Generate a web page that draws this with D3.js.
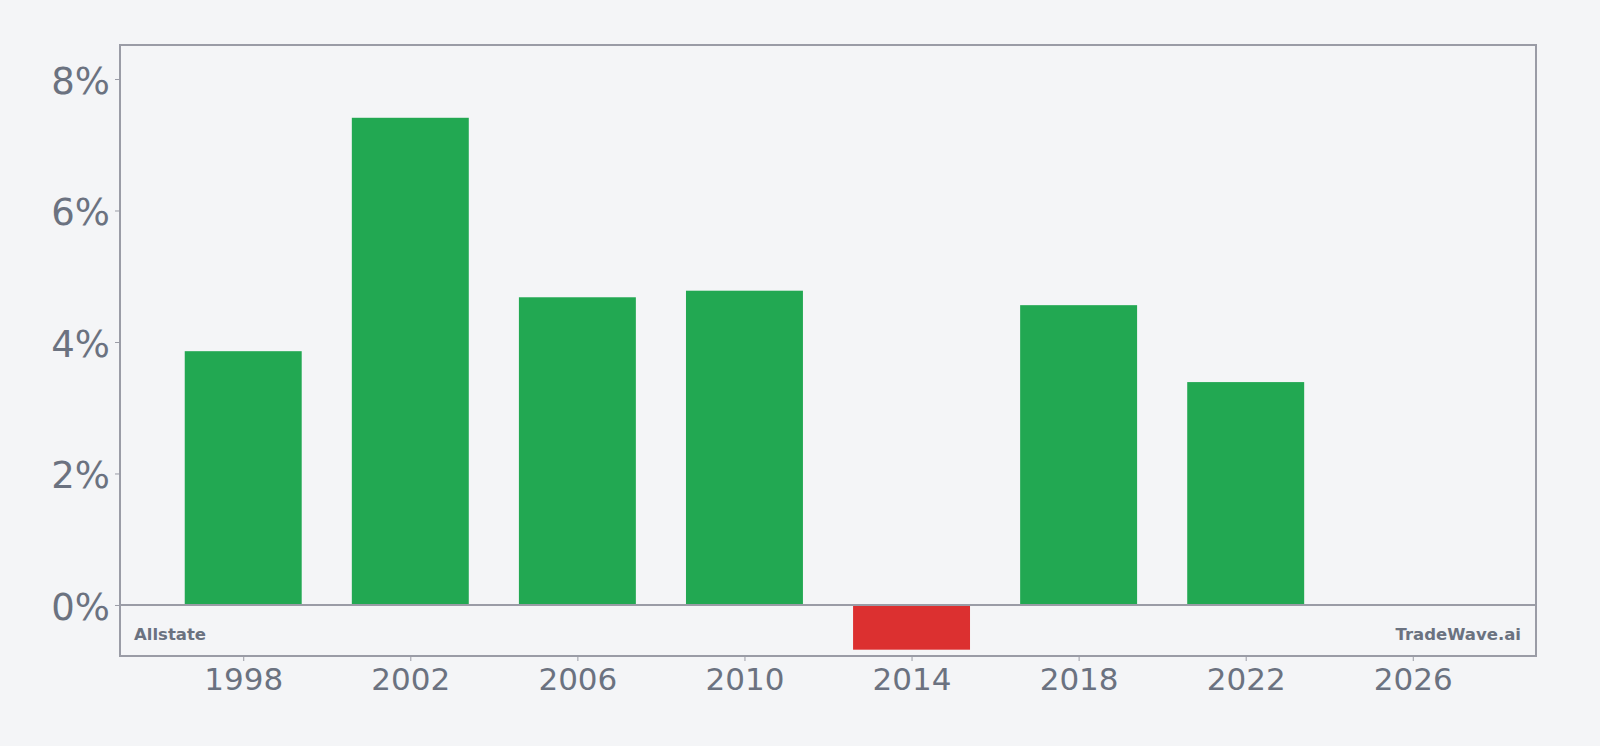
<!DOCTYPE html>
<html>
<head>
<meta charset="utf-8">
<script src="https://cdn.jsdelivr.net/npm/d3@7"></script>
<style>
    html, body { margin: 0; padding: 0; background: #f4f5f7; }
    svg { display: block; font-family: 'DejaVu Sans', sans-serif; }
</style>
</head>
<body>
<svg id="chart" width="1600" height="746"></svg>
<script>
const YEARS = [1998, 2002, 2006, 2010, 2014, 2018, 2022]
const RETURNS = [3.86, 7.41, 4.68, 4.78, -0.68, 4.56, 3.39]
const X_TICKS = [1998, 2002, 2006, 2010, 2014, 2018, 2022, 2026]
const Y_TICKS = [0, 2, 4, 6, 8]

const svg = d3.select('#chart')
const margin = { top: 45, right: 64, bottom: 90, left: 120 }
const width = 1600 - margin.left - margin.right
const height = 746 - margin.top - margin.bottom

const x = d3.scaleLinear().domain([1995.05, 2028.95]).range([0, width])
const y = d3.scaleLinear().domain([-0.776, 8.517]).range([height, 0])
const barW = x(1995.05 + 2.8) - x(1995.05)

const g = svg.append('g')
    .attr('transform', 'translate(' + margin.left + ',' + margin.top + ')')

g.selectAll('rect.bar')
    .data(YEARS)
    .enter().append('rect')
    .attr('class', 'bar')
    .attr('x', (d) => x(d) - barW / 2)
    .attr('width', barW)
    .attr('y', (d, i) => y(Math.max(0, RETURNS[i])))
    .attr('height', (d, i) => Math.abs(y(RETURNS[i]) - y(0)))
    .attr('fill', (d, i) => RETURNS[i] >= 0 ? '#22a852' : '#dc3030')

// zero line
g.append('line')
    .attr('x1', 0).attr('x2', width)
    .attr('y1', y(0)).attr('y2', y(0))
    .attr('stroke', '#9a9ca6')
    .attr('stroke-width', 2)

// frame
g.append('rect')
    .attr('width', width).attr('height', height)
    .attr('fill', 'none')
    .attr('stroke', '#9a9ca6')
    .attr('stroke-width', 2)

const yAxis = g.append('g')
    .call(d3.axisLeft(y).tickValues(Y_TICKS).tickFormat((d) => d + '%').tickSize(5).tickPadding(5))
yAxis.select('.domain').remove()
yAxis.selectAll('line').attr('stroke', '#9a9ca6')
yAxis.selectAll('text')
    .attr('fill', '#6b7280')
    .attr('dy', '0.38em')
    .style('font-size', '37px')
    .style('font-family', "'DejaVu Sans', sans-serif")

const xAxis = g.append('g')
    .attr('transform', 'translate(0,' + height + ')')
    .call(d3.axisBottom(x).tickValues(X_TICKS).tickFormat(d3.format('d')).tickSize(5).tickPadding(7))
xAxis.select('.domain').remove()
xAxis.selectAll('line').attr('stroke', '#9a9ca6')
xAxis.selectAll('text')
    .attr('fill', '#6b7280')
    .style('font-size', '31px')
    .style('font-family', "'DejaVu Sans', sans-serif")

g.append('text')
    .attr('x', 14).attr('y', height - 16)
    .attr('fill', '#6b7280')
    .style('font-size', '16.5px')
    .style('font-weight', 'bold')
    .text('Allstate')

g.append('text')
    .attr('x', width - 15).attr('y', height - 16)
    .attr('text-anchor', 'end')
    .attr('fill', '#6b7280')
    .style('font-size', '16.5px')
    .style('font-weight', 'bold')
    .text('TradeWave.ai')
</script>
</body>
</html>
